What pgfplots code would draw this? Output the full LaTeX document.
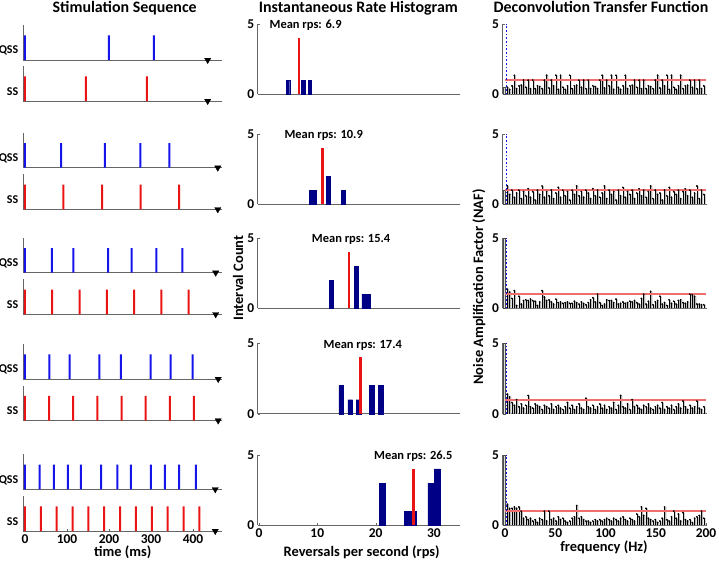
\documentclass[border=0pt]{standalone}
\usepackage{pgfplots}
\usepackage{pgfplotstable}
\pgfplotsset{compat=1.18}
\usepackage{fontspec}
\setmainfont{Carlito}
\definecolor{navyb}{RGB}{0,0,135}
\definecolor{sred}{RGB}{235,20,20}
\definecolor{sblue}{RGB}{20,20,235}
\definecolor{pinkr}{RGB}{240,110,110}
\newcommand{\fs}[1]{\bfseries\fontsize{#1}{#1}\selectfont}
\pgfplotsset{
  base/.style={scale only axis, axis x line*=bottom, axis y line*=left,
    axis line style={-, black!60, line width=0.7pt},
    tick style={black!60}, major tick length=2bp, tick align=inside,
    /pgf/number format/assume math mode=true,
    tick label style={font=\fs{13.5}},
    clip=false},
  stim/.style={base, width=199.1bp, height=35bp, xmin=-4, xmax=470, ymin=0, ymax=1.42, xtick=\empty, ytick=\empty},
  hist/.style={base, width=202.4bp, height=70.5bp, xmin=-0.2, xmax=34.5, ymin=0, ymax=5, ytick={0,5}, xtick=\empty},
  naf/.style={base, width=204.5bp, height=70.5bp, xmin=-2.5, xmax=201, ymin=0, ymax=5, ytick={0,5}, xtick=\empty},
  spkb/.style={ybar, bar width=2bp, bar shift=0pt, fill=sblue, draw=none},
  spkr/.style={ybar, bar width=2bp, bar shift=0pt, fill=sred, draw=none},
  endm/.style={only marks, mark=triangle*, mark options={rotate=180, fill=black, draw=black}, mark size=3.6bp},
  hbar/.style={ybar, bar shift=0pt, fill=navyb, draw=navyb},
  mline/.style={ybar, bar width=2.4bp, bar shift=0pt, fill=sred, draw=none},
}
\newcommand{\lab}[1]{\node[anchor=east, font=\fs{12}, xshift=-1.5bp] at (rel axis cs:0,0.27) {#1};}
\newcommand{\nafplots}[2]{%
  \addplot[ybar, bar width=1.6, bar shift=0pt, fill=gray!25, draw=black!70, line width=0.3pt] coordinates {(-0.6,#2)};
  \addplot[ybar, bar width=1.3, bar shift=0pt, fill=gray!55, draw=none] table[x expr=\coordindex*2.3+3.4, y index=0] {#1};
  \addplot[ycomb, black, line width=0.45pt, mark=*, mark size=0.65bp] table[x expr=\coordindex*2.3+2.3, y index=0] {#1};
  \addplot[fill=pinkr, draw=none] coordinates {(0,0.94) (200,0.94) (200,1.06) (0,1.06)} -- cycle;
  \addplot[sblue, dotted, line width=1.7bp] coordinates {(1.6,0) (1.6,5)};
}
\pgfplotstableread[header=false,row sep=\\]{
0.5\\0.35\\0.6\\1.35\\0.4\\0.6\\0.65\\1.0\\0.5\\1.0\\0.4\\1.0\\0.4\\0.6\\0.55\\0.4\\1.0\\1.35\\0.45\\1.0\\0.6\\1.35\\0.35\\1.35\\
0.5\\0.35\\0.6\\1.35\\0.4\\0.6\\0.65\\1.0\\0.5\\1.0\\0.4\\1.0\\0.4\\0.6\\0.55\\0.4\\1.0\\1.35\\0.45\\1.0\\0.6\\1.35\\0.35\\1.35\\
0.5\\0.35\\0.6\\1.35\\0.4\\0.6\\0.65\\1.0\\0.5\\1.0\\0.4\\1.0\\0.4\\0.6\\0.55\\0.4\\1.0\\1.35\\0.45\\1.0\\0.6\\1.35\\0.35\\1.35\\
0.5\\0.35\\0.6\\1.35\\0.4\\0.6\\0.65\\1.0\\0.5\\1.0\\0.4\\1.0\\0.4\\0.6\\
}\nafA
\pgfplotstableread[header=false,row sep=\\]{
1.3\\0.7\\1.0\\0.5\\0.8\\1.0\\0.4\\0.9\\0.6\\1.1\\
0.5\\0.9\\0.3\\1.0\\0.7\\1.3\\0.5\\0.9\\0.6\\1.0\\
0.4\\0.8\\1.2\\0.5\\1.0\\0.6\\0.9\\0.3\\1.0\\0.7\\
1.3\\0.6\\0.9\\0.5\\1.0\\0.8\\0.4\\1.1\\0.6\\1.0\\
0.5\\0.8\\1.3\\0.4\\1.0\\0.7\\0.9\\0.3\\1.0\\0.6\\
1.2\\0.5\\0.9\\0.7\\1.0\\0.4\\0.8\\1.1\\0.6\\1.0\\
0.5\\0.9\\1.3\\0.4\\1.0\\0.7\\0.8\\0.3\\1.0\\0.6\\
1.2\\0.5\\0.9\\0.7\\1.0\\0.4\\0.9\\1.1\\0.6\\1.0\\
0.5\\0.8\\1.3\\0.4\\1.0\\0.7\\
}\nafB
\pgfplotstableread[header=false,row sep=\\]{
1.35\\1.15\\0.7\\1.25\\0.2\\0.85\\0.3\\0.55\\0.6\\0.55\\
0.65\\0.55\\0.5\\0.2\\0.45\\1.25\\0.8\\0.55\\0.6\\0.45\\
0.3\\0.65\\0.4\\0.45\\0.35\\0.4\\0.45\\0.35\\0.35\\0.5\\
0.4\\0.3\\0.45\\0.35\\0.25\\0.4\\0.6\\0.75\\0.45\\1.0\\
0.4\\0.2\\0.3\\0.6\\0.55\\0.55\\0.4\\0.65\\0.3\\0.35\\
0.45\\0.35\\0.4\\0.5\\0.45\\0.55\\0.4\\0.3\\0.7\\1.0\\
0.3\\0.5\\1.2\\0.25\\0.45\\0.55\\0.85\\0.3\\0.4\\0.2\\
0.6\\0.35\\0.5\\0.3\\0.55\\0.6\\0.4\\0.35\\0.45\\1.0\\
0.95\\0.85\\0.3\\0.3\\0.25\\0.25\\
}\nafC
\pgfplotstableread[header=false,row sep=\\]{
1.4\\1.2\\0.8\\0.6\\1.0\\0.5\\0.7\\0.4\\0.6\\1.3\\
0.5\\0.4\\0.7\\0.6\\0.5\\0.3\\0.6\\0.5\\0.4\\0.7\\
0.3\\0.5\\0.6\\0.4\\0.3\\0.5\\0.8\\0.4\\0.6\\0.3\\
0.5\\0.7\\0.4\\0.3\\1.1\\0.5\\0.4\\0.6\\0.3\\0.5\\
0.7\\0.4\\0.6\\0.3\\0.5\\0.4\\0.8\\0.3\\0.6\\1.3\\
0.5\\0.4\\0.7\\0.3\\1.0\\0.5\\0.6\\0.4\\0.3\\0.6\\
0.5\\0.7\\0.4\\0.3\\0.5\\0.6\\0.4\\0.8\\0.3\\0.5\\
0.4\\0.6\\0.3\\0.5\\0.7\\0.4\\0.9\\0.5\\0.3\\0.6\\
0.4\\0.5\\0.9\\0.4\\0.3\\0.5\\
}\nafD
\pgfplotstableread[header=false,row sep=\\]{
1.5\\1.2\\1.2\\1.3\\1.2\\1.3\\1.0\\0.5\\0.6\\0.4\\
0.5\\0.3\\0.4\\0.2\\0.5\\0.4\\1.0\\0.3\\1.0\\0.4\\
0.5\\0.3\\0.6\\0.4\\0.5\\0.3\\0.2\\0.3\\0.5\\0.6\\
1.4\\0.5\\0.6\\0.4\\0.3\\0.3\\0.2\\0.3\\0.4\\0.3\\
0.4\\0.3\\0.4\\0.5\\0.4\\0.3\\0.5\\0.4\\0.3\\0.5\\
0.6\\0.4\\0.3\\0.5\\0.4\\0.3\\0.8\\0.6\\1.3\\0.7\\
1.2\\0.5\\0.4\\0.3\\0.4\\0.2\\0.3\\0.5\\1.3\\0.4\\
0.3\\0.6\\1.0\\0.5\\0.8\\0.3\\0.9\\0.4\\0.3\\0.4\\
0.2\\0.5\\0.6\\0.7\\1.0\\0.5\\
}\nafE
\begin{document}
\begin{tikzpicture}
\useasboundingbox (0,0) rectangle (719bp,-565bp);
% titles
\node[anchor=base, font=\fs{16}] at (124.7bp,-12.7bp) {Stimulation Sequence};
\node[anchor=base, font=\fs{16}] at (358.3bp,-12.7bp) {Instantaneous Rate Histogram};
\node[anchor=base, font=\fs{16}] at (601bp,-12.7bp) {Deconvolution Transfer Function};
% axis labels
\node[anchor=base, font=\fs{14.5}] at (122.8bp,-556bp) {time (ms)};
\node[anchor=base, font=\fs{14.5}] at (361.7bp,-556bp) {Reversals per second (rps)};
\node[anchor=base, font=\fs{14.5}] at (604bp,-551bp) {frequency (Hz)};
\node[rotate=90, font=\fs{14.5}] at (238bp,-278bp) {Interval Count};
\node[rotate=90, font=\fs{14.5}] at (479bp,-287bp) {Noise Amplification Factor (NAF)};

% ---------------- Row 1 ----------------
\begin{axis}[stim, at={(23.3bp,-60bp)}, anchor=south west]
\addplot[spkb] coordinates {(0,1) (200,1) (307,1)};
\addplot[endm] coordinates {(435,0)};
\lab{QSS}
\end{axis}
\begin{axis}[stim, at={(23.3bp,-101bp)}, anchor=south west]
\addplot[spkr] coordinates {(0,1) (145,1) (290,1)};
\addplot[endm] coordinates {(435,0)};
\lab{SS}
\end{axis}
\begin{axis}[hist, at={(257.8bp,-94.3bp)}, anchor=south west]
\addplot[hbar, bar width=0.55] coordinates {(5.0,1) (7.6,1) (8.7,1)};
\addplot[mline] coordinates {(6.9,4)};
\node[font=\fs{12.5}] at (axis cs:8.0,4.88) {Mean rps: 6.9};
\end{axis}
\begin{axis}[naf, at={(502.5bp,-94.3bp)}, anchor=south west]
\nafplots{\nafA}{0.5}
\end{axis}

% ---------------- Row 2 ----------------
\begin{axis}[stim, at={(23.3bp,-167.7bp)}, anchor=south west]
\addplot[spkb] coordinates {(0,1) (86,1) (190,1) (275,1) (344,1)};
\addplot[endm] coordinates {(459,0)};
\lab{QSS}
\end{axis}
\begin{axis}[stim, at={(23.3bp,-209.3bp)}, anchor=south west]
\addplot[spkr] coordinates {(0,1) (91.7,1) (183.5,1) (275.2,1) (366.9,1)};
\addplot[endm] coordinates {(459,0)};
\lab{SS}
\end{axis}
\begin{axis}[hist, at={(257.8bp,-204.3bp)}, anchor=south west]
\addplot[hbar, bar width=0.62] coordinates {(8.9,1) (9.5,1) (11.85,2) (14.45,1)};
\addplot[mline] coordinates {(10.9,4)};
\node[font=\fs{12.5}] at (axis cs:11.1,4.88) {Mean rps: 10.9};
\end{axis}
\begin{axis}[naf, at={(502.5bp,-204.3bp)}, anchor=south west]
\nafplots{\nafB}{1.0}
\end{axis}

% ---------------- Row 3 ----------------
\begin{axis}[stim, at={(23.3bp,-272.7bp)}, anchor=south west]
\addplot[spkb] coordinates {(0,1) (64,1) (115,1) (198,1) (254,1) (313,1) (375,1)};
\addplot[endm] coordinates {(454,0)};
\lab{QSS}
\end{axis}
\begin{axis}[stim, at={(23.3bp,-314.3bp)}, anchor=south west]
\addplot[spkr] coordinates {(0,1) (64.9,1) (129.9,1) (194.8,1) (259.7,1) (324.7,1) (389.6,1)};
\addplot[endm] coordinates {(454,0)};
\lab{SS}
\end{axis}
\begin{axis}[hist, at={(257.8bp,-308.3bp)}, anchor=south west]
\addplot[hbar, bar width=0.68] coordinates {(12.4,2) (16.65,3) (18.0,1) (18.68,1)};
\addplot[mline] coordinates {(15.4,4)};
\node[font=\fs{12.5}] at (axis cs:15.8,4.88) {Mean rps: 15.4};
\end{axis}
\begin{axis}[naf, at={(502.5bp,-308.3bp)}, anchor=south west]
\nafplots{\nafC}{5}
\end{axis}

% ---------------- Row 4 ----------------
\begin{axis}[stim, at={(23.3bp,-379bp)}, anchor=south west]
\addplot[spkb] coordinates {(0,1) (58,1) (106,1) (177,1) (228,1) (299,1) (347,1) (399,1)};
\addplot[endm] coordinates {(460,0)};
\lab{QSS}
\end{axis}
\begin{axis}[stim, at={(23.3bp,-420.5bp)}, anchor=south west]
\addplot[spkr] coordinates {(0,1) (57.5,1) (114.9,1) (172.4,1) (229.9,1) (287.4,1) (344.8,1) (402.3,1)};
\addplot[endm] coordinates {(460,0)};
\lab{SS}
\end{axis}
\begin{axis}[hist, at={(257.8bp,-413.8bp)}, anchor=south west]
\addplot[hbar, bar width=0.8] coordinates {(14.1,2) (15.65,1) (17.05,1) (19.3,2) (20.9,2)};
\addplot[mline] coordinates {(17.4,4)};
\node[font=\fs{12.5}] at (axis cs:17.8,4.88) {Mean rps: 17.4};
\end{axis}
\begin{axis}[naf, at={(502.5bp,-413.8bp)}, anchor=south west]
\nafplots{\nafD}{5}
\end{axis}

% ---------------- Row 5 ----------------
\begin{axis}[stim, at={(23.3bp,-489.3bp)}, anchor=south west]
\addplot[spkb] coordinates {(0,1) (35,1) (69,1) (102,1) (133,1) (181,1) (220,1) (252,1) (300,1) (333,1) (367,1) (407,1)};
\addplot[endm] coordinates {(453,0)};
\lab{QSS}
\end{axis}
\begin{axis}[stim, at={(23.3bp,-531bp)}, anchor=south west, xtick={0,100,200,300,400}]
\addplot[spkr] coordinates {(0,1) (37.7,1) (75.5,1) (113.2,1) (151.0,1) (188.7,1) (226.4,1) (264.2,1) (301.9,1) (339.7,1) (377.4,1) (415.1,1)};
\addplot[endm] coordinates {(453,0)};
\lab{SS}
\end{axis}
\begin{axis}[hist, at={(257.8bp,-525.3bp)}, anchor=south west, xtick={0,10,20,30}]
\addplot[hbar, bar width=1.05] coordinates {(21.2,3) (25.45,1) (26.5,1) (29.5,3) (30.55,4)};
\addplot[mline] coordinates {(26.5,4)};
\node[font=\fs{12.5}] at (axis cs:26.45,4.93) {Mean rps: 26.5};
\end{axis}
\begin{axis}[naf, at={(502.5bp,-525.3bp)}, anchor=south west, xtick={0,50,100,150,200}]
\nafplots{\nafE}{5}
\end{axis}
\end{tikzpicture}
\end{document}
